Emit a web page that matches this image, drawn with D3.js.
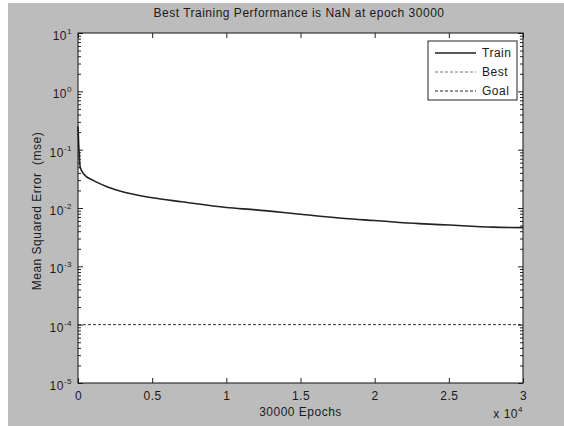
<!DOCTYPE html>
<html>
<head>
<meta charset="utf-8">
<script src="https://cdn.jsdelivr.net/npm/d3@7"></script>
<style>
body { margin: 0; background: #fff; }
text { font-family: "Liberation Sans", Arial, sans-serif; fill: #1a1a1a; letter-spacing: 0.5px; white-space: pre; }
</style>
</head>
<body>
<div class="chart"></div>
<script>
// values
const epochs   = [0, 50, 150, 400, 1000, 2000, 3000, 5000, 7000, 10000, 12000, 15000, 18000, 20000, 23000, 25000, 28000, 30000]
const trainMse = [0.25, 0.12, 0.05, 0.038, 0.03, 0.023, 0.019, 0.015, 0.0128, 0.0102, 0.0093, 0.0078, 0.0066, 0.0061, 0.0054, 0.0051, 0.0047, 0.0046]
const goalMse = 1e-4
const xTicks = [0, 5000, 10000, 15000, 20000, 25000, 30000]
const yExps = [-5, -4, -3, -2, -1, 0, 1]
const legendNames = ["Train", "Best", "Goal"]

const W = 564, H = 426
const margin = {top: 33, right: 41, bottom: 43, left: 78}
const width = W - margin.left - margin.right
const height = H - margin.top - margin.bottom

const svg = d3.select(".chart").append("svg").attr("width", W).attr("height", H)

// figure background
svg.append("rect").attr("x", 8).attr("y", 3).attr("width", W - 8).attr("height", H - 3).attr("fill", "#bcbcbc")

const g = svg.append("g").attr("transform", `translate(${margin.left},${margin.top})`)
g.append("rect").attr("width", width).attr("height", height).attr("fill", "#fff")

const x = d3.scaleLinear().domain([0, 30000]).range([0, width])
const y = d3.scaleLog().domain([1e-5, 1e1]).range([height, 0])

// minor ticks for the log axis
const minor = []
yExps.slice(0, -1).forEach(e => { for (let k = 2; k <= 9; k++) minor.push(k * Math.pow(10, e)) })

g.append("g")
  .call(d3.axisLeft(y).tickValues(minor).tickSizeInner(-3).tickSizeOuter(0).tickFormat(""))
g.append("g").attr("transform", `translate(${width},0)`)
  .call(d3.axisRight(y).tickValues(minor).tickSizeInner(-3).tickSizeOuter(0).tickFormat(""))

// left axis with 10^n labels
const yAxis = g.append("g")
  .call(d3.axisLeft(y).tickValues(yExps.map(e => Math.pow(10, e))).tickSizeInner(-5).tickSizeOuter(0).tickPadding(6).tickFormat(""))
yAxis.selectAll(".tick text").each(function(d, i) {
  const t = d3.select(this).attr("font-size", 12).attr("dy", "0.55em")
  t.append("tspan").text("10")
  t.append("tspan").attr("font-size", 8).attr("dy", "-0.75em").text(yExps[i])
})
g.append("g").attr("transform", `translate(${width},0)`)
  .call(d3.axisRight(y).tickValues(yExps.map(e => Math.pow(10, e))).tickSizeInner(-5).tickSizeOuter(0).tickFormat(""))

// x axis
g.append("g").attr("transform", `translate(0,${height})`)
  .call(d3.axisBottom(x).tickValues(xTicks).tickSizeInner(-5).tickSizeOuter(0).tickPadding(8)
    .tickFormat(d => d3.format("~g")(d / 10000)))
  .selectAll("text").attr("font-size", 12)
g.append("g")
  .call(d3.axisTop(x).tickValues(xTicks).tickSizeInner(-5).tickSizeOuter(0).tickFormat(""))

g.selectAll(".domain").remove()
g.selectAll(".tick line").attr("stroke", "#222")

// goal line
g.append("line")
  .attr("x1", x(0)).attr("x2", x(30000))
  .attr("y1", y(goalMse)).attr("y2", y(goalMse))
  .attr("stroke", "#333").attr("stroke-width", 1).attr("stroke-dasharray", "3,2")

// train curve
const line = d3.line().x(d => x(d[0])).y(d => y(d[1])).curve(d3.curveMonotoneX)
g.append("path").datum(epochs.map((e, i) => [e, trainMse[i]]))
  .attr("d", line).attr("fill", "none").attr("stroke", "#222").attr("stroke-width", 1.6)

// plot frame
g.append("rect").attr("width", width).attr("height", height)
  .attr("fill", "none").attr("stroke", "#111").attr("stroke-width", 1)

// legend
const lg = g.append("g").attr("transform", `translate(${428 - margin.left},${41 - margin.top})`)
lg.append("rect").attr("width", 89).attr("height", 59).attr("fill", "#fff").attr("stroke", "#222")
const lStyles = [
  {dash: null, color: "#222", w: 1.6},
  {dash: "3,2", color: "#777", w: 1},
  {dash: "3,2", color: "#222", w: 1}
]
legendNames.forEach((name, i) => {
  const yy = 12 + i * 19
  lg.append("line").attr("x1", 7).attr("x2", 48).attr("y1", yy).attr("y2", yy)
    .attr("stroke", lStyles[i].color).attr("stroke-width", lStyles[i].w)
    .attr("stroke-dasharray", lStyles[i].dash)
  lg.append("text").attr("x", 54).attr("y", yy + 4).attr("font-size", 12).text(name)
})

// titles
svg.append("text").attr("x", 299).attr("y", 17).attr("text-anchor", "middle")
  .attr("font-size", 12).text("Best Training Performance is NaN at epoch 30000")
svg.append("text").attr("x", margin.left + width / 2).attr("y", 416).attr("text-anchor", "middle")
  .attr("font-size", 12).text("30000 Epochs")
svg.append("text").attr("transform", `translate(41,${211}) rotate(-90)`)
  .attr("text-anchor", "middle").attr("font-size", 12).attr("letter-spacing", "0.9px").text("Mean Squared Error  (mse)")
const sc = svg.append("text").attr("x", margin.left + width).attr("y", 418).attr("text-anchor", "end").attr("font-size", 12)
sc.append("tspan").text("x 10")
sc.append("tspan").attr("font-size", 8).attr("dy", "-0.75em").text("4")
</script>
</body>
</html>
